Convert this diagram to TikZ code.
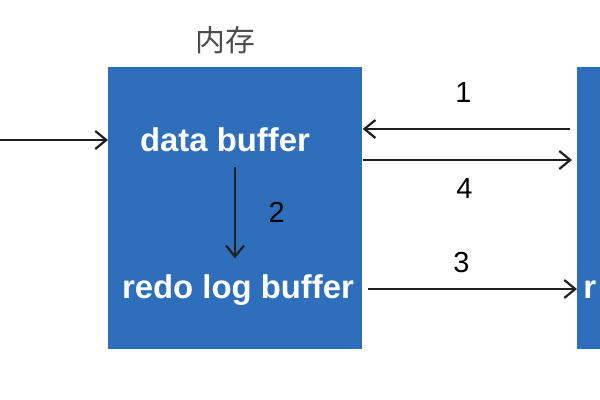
\documentclass[tikz,border=0pt]{standalone}
\usepackage{fontspec}
\setmainfont{Liberation Sans}
\newfontfamily\cjk{Noto Sans CJK SC}
\usetikzlibrary{arrows.meta, positioning}

\definecolor{boxblue}{RGB}{46,110,186}
\tikzset{
  box/.style={fill=boxblue, draw=none, inner sep=0pt},
  buftext/.style={text=white, inner sep=0pt, font=\fontsize{18.7}{22}\selectfont\bfseries},
  numlabel/.style={inner sep=0pt, font=\fontsize{16.5}{19}\selectfont},
  arr/.style={-{Straight Barb[length=2.2mm, width=3.6mm]}, line width=1.25pt, draw=black!88}
}

\begin{document}
\begin{tikzpicture}
  \clip (0,0) rectangle (12,8);
  % memory box and the box on the right
  \node[box, anchor=south west, minimum width=5.08cm, minimum height=5.64cm] (mem) at (2.16,1.02) {};
  \node[box, anchor=south west, minimum width=1cm, minimum height=5.64cm] (disk) at (11.54,1.02) {};
  \node[text=black!70, inner sep=0pt, font=\cjk\fontsize{17}{20}\selectfont] (memlabel) at (4.5,7.2) {内存};

  \node[buftext] (dbuf) at (4.5,5.2) {data buffer};
  \node[buftext] (rbuf) at (4.76,2.2) {redo log buffer};
  \node[buftext, anchor=west] (disktext) at (11.66,2.2) {r};

  \coordinate (in) at (0,5.2);
  \coordinate (y1) at (0,5.42);
  \coordinate (y4) at (0,4.8);
  \coordinate (y3) at (0,2.22);

  \draw[arr] (in) -- (mem.west |- in);
  \draw[arr] ([xshift=-0.14cm]disk.west |- y1) -- (mem.east |- y1)
    node[numlabel, midway, above=0.5cm, xshift=-0.06cm] {1};
  \draw[arr] ([xshift=0.2cm,yshift=-0.3cm]dbuf.south) -- ([xshift=-0.06cm,yshift=0.32cm]rbuf.north)
    node[numlabel, midway, right=0.65cm] {2};
  \draw[arr] ([xshift=0.1cm]mem.east |- y3) -- (disk.west |- y3)
    node[numlabel, midway, above=0.3cm, xshift=-0.22cm] {3};
  \draw[arr] (mem.east |- y4) -- ([xshift=-0.1cm]disk.west |- y4)
    node[numlabel, midway, below=0.35cm, xshift=-0.06cm] {4};
\end{tikzpicture}
\end{document}
